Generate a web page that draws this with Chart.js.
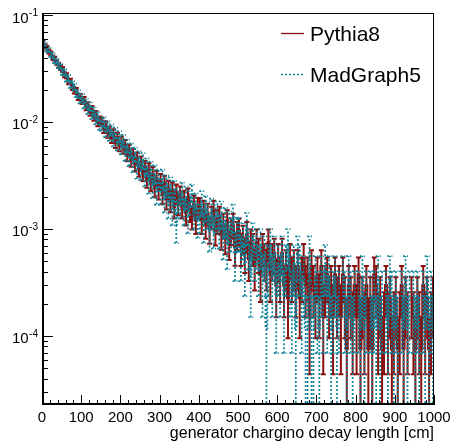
<!DOCTYPE html>
<html><head><meta charset="utf-8">
<script src="https://cdn.jsdelivr.net/npm/chart.js@4/dist/chart.umd.min.js"></script>
<style>html,body{margin:0;padding:0;background:#fff;}#wrap{width:456px;height:443px;position:relative;}</style>
</head><body><div id="wrap"><canvas id="c" width="456" height="443"></canvas></div>
<script>
// ---- data ----
const binWidth = 5;
const xMin = 0, xMax = 1000;
const xTickValues = [0,100,200,300,400,500,600,700,800,900,1000];
const xTickLabels = ['0','100','200','300','400','500','600','700','800','900','1000'];
const yDecadeValues = [1e-1,1e-2,1e-3,1e-4];
const yDecadeBase = ['10','10','10','10'];
const yDecadeExponents = ['-1','-2','-3','-4'];
const seriesNames = ['Pythia8','MadGraph5'];
const xAxisTitle = 'generator chargino decay length [cm]';
const pythia8EventWeight = 7.5e-5;
const madgraph5EventWeight = 1.18e-4;

const pythia8 = [
0.0556,0.0512,0.0493,0.0455,0.0438,0.0399,0.0391,0.0360,0.0338,0.0322,
0.0309,0.0276,0.0271,0.0239,0.0240,0.0212,0.0197,0.0196,0.0172,0.0171,
0.0158,0.0160,0.0139,0.0143,0.0124,0.0131,0.0112,0.0117,0.0100,0.0104,
0.0101,0.0087,0.0093,0.0079,0.0083,0.0071,0.0078,0.0064,0.0072,0.0060,
0.0066,0.0057,0.0061,0.0049,0.0055,0.0044,0.0050,0.0040,0.0046,0.0036,
0.0042,0.0033,0.0038,0.0029,0.0036,0.0027,0.0033,0.0024,0.0030,0.0023,
0.0028,0.0021,0.0027,0.0019,0.0024,0.0018,0.0023,0.0016,0.0022,0.0017,
0.0021,0.0016,0.0019,0.0014,0.0020,0.0015,0.0013,0.0017,0.0012,0.0016,
0.0016,0.0012,0.0015,0.0011,0.0014,0.0010,0.0013,0.0015,0.00097,0.0012,
0.0013,0.00090,0.0011,0.00083,0.0012,0.00075,0.00098,0.0011,0.00068,0.00090,
0.000975,0.000675,0.000825,0.0006,0.0009,0.000525,0.00075,0.000675,0.00045,0.00075,
0.0006,0.000375,0.000675,0.000525,0.00045,0.00075,0.000375,0.000525,0.0006,0.0003,
0.000525,0.000375,0.0006,0.0003,0.00045,0.000225,0.000525,0.000375,0.00045,0.0003,
0.00045,0.000225,0.000375,0.000525,0.0003,0.000375,0.00015,0.00045,0.0003,0.000225,
0.000375,0.000225,0.00045,0.00015,0.0003,0.000375,0.000225,0.0003,0.00015,0.000375,
0.000225,0.0003,0.00015,0.000375,0.000225,0.000075,0.0003,0.000225,0.00015,0.0003,
0.00015,0.000375,0.000075,0.000225,0.00015,0.0003,0.000075,0.000225,0.000075,0.000375,
0.0003,0.00015,0.000225,0.000075,0.00015,0.0003,0.00015,0.000225,0.000075,0.00015,
0.000225,0.000075,0.00015,0.0003,0.000075,0.000225,0.00015,0,0.000225,0.00015,
0.000075,0.000225,0.00015,0.000075,0.0003,0.00015,0.000225,0.000075,0.00015,0.000225
];

const madgraph5 = [
0.0545,0.0524,0.0479,0.0470,0.0427,0.0416,0.0376,0.0368,0.0341,0.0328,
0.0294,0.0292,0.0256,0.0257,0.0224,0.0225,0.0213,0.0186,0.0184,0.0163,
0.0168,0.0147,0.0151,0.0131,0.0140,0.0118,0.0125,0.0106,0.0112,0.0095,
0.0093,0.0100,0.0082,0.0091,0.0076,0.0085,0.0068,0.0079,0.0063,0.0073,
0.0058,0.0067,0.0051,0.0060,0.0046,0.0055,0.0041,0.0050,0.0036,0.0046,
0.0035,0.0044,0.0031,0.0039,0.0027,0.0036,0.0025,0.0033,0.0022,0.0030,
0.0022,0.0030,0.0019,0.0026,0.0017,0.0025,0.0015,0.0023,0.0011,0.0019,
0.0017,0.0022,0.0015,0.0020,0.0013,0.0018,0.0021,0.0014,0.0017,0.0012,
0.0013,0.0018,0.0011,0.0016,0.0014,0.00095,0.0015,0.0010,0.0013,0.0014,
0.0010,0.0014,0.00083,0.0012,0.00071,0.0011,0.00094,0.0013,0.00059,0.00094,
0.000944,0.00059,0.000826,0.000472,0.00106,0.000708,0.000354,0.000826,0.00059,0.000708,
0.000472,0.000708,0.000354,0.00059,0.000118,0.000472,0.000708,0.000354,0.00059,0.000236,
0.000472,0.000354,0.00059,0.000236,0.000472,0.000708,0.000354,0.000236,0.000472,0.000118,
0.00059,0.000472,0.000236,0.000354,0.000118,0.000118,0.00059,0.000118,0.000118,0.000354,
0.000236,0.000118,0.000354,0.000236,0.000472,0.000236,0.000354,0.000118,0.000236,0.000354,
0.000118,0.000236,0,0.000354,0.000236,0.000118,0.000354,0.000236,0.000118,0.000236,
0,0.000236,0.000118,0.000354,0.000118,0.000236,0,0.000236,0.000118,0.000236,
0.000118,0.000354,0.000118,0.000236,0,0.000236,0.000118,0.000354,0.000236,0.000118,
0.000236,0.000118,0,0.000236,0.000118,0.000354,0.000118,0.000236,0,0.000236,
0.000118,0.000236,0.000118,0,0.000236,0.000118,0.000354,0.000118,0.000236,0.000118
];

// ---- styles ----
const FONT = '"Liberation Sans", Arial, Helvetica, sans-serif';
const RED = '#8a1010';
const TEAL = '#0f8398';
const yMin = 2.265e-5, yMax = 0.1044;

const binLowEdges = pythia8.map((_, i) => xMin + i * binWidth);
function stepData(vals) {
  const d = vals.map((v, i) => ({x: binLowEdges[i], y: v}));
  d.push({x: xMax, y: vals[vals.length - 1]});
  return d;
}

const seriesInfo = [
  {vals: pythia8, w: pythia8EventWeight, color: RED, width: 2, dash: []},
  {vals: madgraph5, w: madgraph5EventWeight, color: TEAL, width: 1.7, dash: [2, 2]}
];

const rootPlugin = {
  id: 'rootStyle',
  afterDatasetDraw(chart, args) {
    const info = seriesInfo[args.index];
    const ctx = chart.ctx, ca = chart.chartArea;
    const xs = chart.scales.x, ys = chart.scales.y;
    ctx.save();
    ctx.beginPath(); ctx.rect(ca.left, ca.top, ca.right - ca.left, ca.bottom - ca.top); ctx.clip();
    ctx.strokeStyle = info.color; ctx.lineWidth = info.width; ctx.setLineDash(info.dash);
    info.vals.forEach((v, i) => {
      if (v <= 0) return;
      const err = Math.sqrt(v * info.w);
      const cx = xs.getPixelForValue(binLowEdges[i] + binWidth / 2);
      const hi = ys.getPixelForValue(v + err);
      const lo = (v - err) > yMin ? ys.getPixelForValue(v - err) : ca.bottom + 2;
      ctx.beginPath();
      ctx.moveTo(cx, lo); ctx.lineTo(cx, hi);
      ctx.moveTo(cx - 2.5, hi); ctx.lineTo(cx + 2.5, hi);
      if ((v - err) > yMin) { ctx.moveTo(cx - 2.5, lo); ctx.lineTo(cx + 2.5, lo); }
      ctx.stroke();
    });
    ctx.restore();
  },
  afterDraw(chart) {
    const ctx = chart.ctx, ca = chart.chartArea;
    const xs = chart.scales.x, ys = chart.scales.y;
    ctx.save();
    ctx.strokeStyle = '#000'; ctx.fillStyle = '#000'; ctx.setLineDash([]);
    // frame
    ctx.lineWidth = 1;
    ctx.strokeRect(ca.left + 0.5, ca.top + 0.5, ca.right - ca.left - 1, ca.bottom - ca.top - 1);
    ctx.beginPath();
    ctx.moveTo(ca.left + 1.5, ca.top); ctx.lineTo(ca.left + 1.5, ca.bottom);
    ctx.moveTo(ca.left, ca.bottom - 1.5); ctx.lineTo(ca.right, ca.bottom - 1.5);
    ctx.stroke();
    // x ticks
    ctx.beginPath();
    for (let v = xMin; v <= xMax; v += 20) {
      const px = Math.round(xs.getPixelForValue(v)) + 0.5;
      const len = (v % 100 === 0) ? 10 : 5;
      ctx.moveTo(px, ca.bottom); ctx.lineTo(px, ca.bottom - len);
    }
    // y ticks
    for (let e = -5; e <= -1; e++) {
      for (let m = 1; m <= 9; m++) {
        const v = m * Math.pow(10, e);
        if (v < yMin || v > yMax) continue;
        const py = Math.round(ys.getPixelForValue(v)) + 0.5;
        const len = (m === 1) ? 11 : 6;
        ctx.moveTo(ca.left, py); ctx.lineTo(ca.left + len, py);
      }
    }
    ctx.stroke();
    // x labels
    ctx.font = '15px ' + FONT; ctx.textAlign = 'center'; ctx.textBaseline = 'alphabetic';
    xTickValues.forEach((v, i) => {
      ctx.fillText(xTickLabels[i], xs.getPixelForValue(v), ca.bottom + 17);
    });
    // y labels
    yDecadeValues.forEach((v, i) => {
      const py = ys.getPixelForValue(v);
      ctx.font = '10px ' + FONT; ctx.textAlign = 'right';
      const ew = ctx.measureText(yDecadeExponents[i]).width;
      ctx.fillText(yDecadeExponents[i], 38, py + 1);
      ctx.font = '15px ' + FONT;
      ctx.fillText(yDecadeBase[i], 38 - ew - 0.5, py + 7.5);
    });
    // axis title
    ctx.font = '16px ' + FONT; ctx.textAlign = 'right';
    ctx.fillText(xAxisTitle, ca.right, 438);
    // legend
    const legY = [33, 74];
    seriesInfo.forEach((s, i) => {
      ctx.strokeStyle = s.color; ctx.lineWidth = 1.3; ctx.setLineDash(s.dash);
      ctx.beginPath(); ctx.moveTo(281, legY[i] + 0.5); ctx.lineTo(304, legY[i] + 0.5); ctx.stroke();
      ctx.setLineDash([]);
      ctx.fillStyle = '#000'; ctx.font = '21px ' + FONT; ctx.textAlign = 'left';
      ctx.fillText(seriesNames[i], 310, legY[i] + 7.5);
    });
    ctx.restore();
  }
};

new Chart(document.getElementById('c'), {
  type: 'line',
  data: {
    datasets: seriesInfo.map((s, i) => ({
      label: seriesNames[i],
      data: stepData(s.vals),
      borderColor: s.color,
      borderWidth: s.width,
      borderDash: s.dash,
      stepped: 'before',
      pointRadius: 0,
      fill: false,
      order: i === 0 ? 2 : 1
    }))
  },
  options: {
    responsive: false,
    animation: false,
    devicePixelRatio: 1,
    layout: {padding: {left: 42, right: 22, top: 13, bottom: 38}},
    plugins: {legend: {display: false}, tooltip: {enabled: false}},
    scales: {
      x: {type: 'linear', min: xMin, max: xMax, display: false},
      y: {type: 'logarithmic', min: yMin, max: yMax, display: false}
    }
  },
  plugins: [rootPlugin]
});
</script></body></html>
